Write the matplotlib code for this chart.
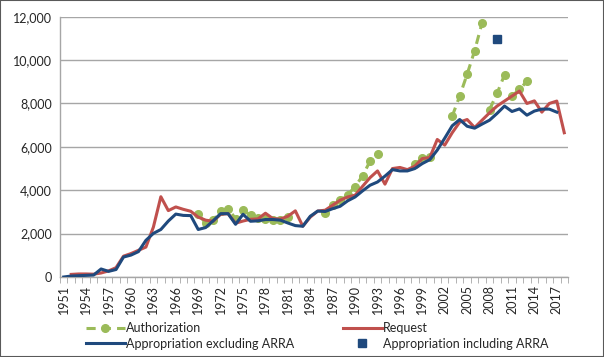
import matplotlib
matplotlib.use("Agg")
from matplotlib import pyplot as plt
from matplotlib.patches import Rectangle
from matplotlib.ticker import FuncFormatter
import numpy as np

years = list(range(1951, 2019))

# appropriation excluding ARRA, 1951-2017 (nan for 2018)
appropriation = [0, 45, 60, 75, 90, 370, 260, 345, 920, 1010,
                 1170, 1690, 2010, 2190, 2580, 2900, 2840, 2830, 2190, 2280,
                 2590, 2920, 2920, 2430, 2890, 2570, 2590, 2650, 2650, 2620,
                 2490, 2370, 2340, 2800, 3040, 3020, 3150, 3260, 3510, 3690,
                 3970, 4230, 4380, 4650, 4950, 4890, 4890, 5000, 5230, 5410,
                 5850, 6400, 6970, 7260, 6950, 6860, 7050, 7230, 7540, 7880,
                 7630, 7750, 7460, 7650, 7740, 7740, 7600, np.nan]

# request, 1952-2018 (nan for 1951)
request = [np.nan, 120, 140, 140, 130, 185, 280, 430, 960, 1080,
           1230, 1380, 2300, 3700, 3060, 3230, 3120, 3030, 2760, 2620,
           2570, 2890, 2920, 2480, 2580, 2660, 2680, 2940, 2690, 2670,
           2800, 3050, 2340, 2760, 3040, 3080, 3310, 3540, 3690, 3770,
           4180, 4580, 4890, 4280, 5000, 5050, 4950, 5110, 5460, 5510,
           6340, 6080, 6650, 7140, 7260, 6890, 7230, 7570, 7880, 8110,
           8340, 8570, 8000, 8120, 7600, 8000, 8110, 6650]

# authorization acts, one list per act
auth_years = [list(range(1969, 1982)), list(range(1986, 1994)),
              list(range(1998, 2001)), list(range(2003, 2008)),
              list(range(2008, 2011)), list(range(2011, 2014))]
auth_values = [[2890, 2490, 2620, 3050, 3150, 2690, 3090, 2840, 2740, 2660, 2620, 2650, 2760],
               [2970, 3320, 3550, 3780, 4170, 4660, 5340, 5650],
               [5190, 5470, 5510],
               [7410, 8340, 9350, 10430, 11720],
               [7720, 8460, 9320],
               [8340, 8650, 9020]]

arra_year = [2009]
arra_value = [10950]

green = "#9BBB59"
red = "#C0504D"
blue = "#1F497D"
text_color = "#262626"
fs = 9

plt.rcParams["font.family"] = ["Lato", "DejaVu Sans"]

fig = plt.figure(figsize=(6.04, 3.57), dpi=100)
ax = fig.add_axes([60 / 604, 80 / 357, 508 / 604, 260.3 / 357])

auth_handle = None
for yrs, vals in zip(auth_years, auth_values):
    auth_handle, = ax.plot(yrs, vals, color=green, lw=2.2, ls=(0, (3, 2)),
                           marker="o", ms=5.5, zorder=2)
req_handle, = ax.plot(years, request, color=red, lw=2.2, zorder=3)
app_handle, = ax.plot(years, appropriation, color=blue, lw=2.2, zorder=4)
arra_handle, = ax.plot(arra_year, arra_value, ls="none", marker="s",
                       ms=6, color=blue, zorder=5)

ax.set_xlim(1950.5, 2018.5)
ax.set_ylim(0, 12000)
ax.set_yticks(range(0, 12001, 2000))
ax.yaxis.set_major_formatter(FuncFormatter(lambda v, p: f"{int(v):,}"))
ax.grid(axis="y", color="#A6A6A6", lw=1)
ax.set_axisbelow(True)

ax.set_xticks(years[::3])
ax.set_xticklabels([str(y) for y in years[::3]], rotation=90)
ax.set_xticks(np.arange(1950.5, 2019, 1), minor=True)
ax.tick_params(axis="x", which="major", length=0, pad=6, labelsize=fs, labelcolor=text_color)
ax.tick_params(axis="x", which="minor", length=4, color="#A6A6A6", direction="out")
ax.tick_params(axis="y", length=0, pad=6, labelsize=fs, labelcolor=text_color)

for side in ["top", "right"]:
    ax.spines[side].set_visible(False)
for side in ["left", "bottom"]:
    ax.spines[side].set_color("#A6A6A6")
    ax.spines[side].set_linewidth(1)

leg = fig.legend([auth_handle, app_handle, req_handle, arra_handle],
                 ["Authorization", "Appropriation excluding ARRA", "Request", "Appropriation including ARRA"],
                 ncol=2, loc="upper left", bbox_to_anchor=(86 / 604, 1 - 322 / 357),
                 frameon=False, fontsize=fs, handlelength=3.1, handletextpad=0.1,
                 columnspacing=3.9, labelspacing=0.3, borderpad=0, borderaxespad=0)
for t in leg.get_texts():
    t.set_color(text_color)

fig.patches.append(Rectangle((0, 0), 1, 1, transform=fig.transFigure, fill=False,
                             edgecolor="#595959", lw=1.5))

fig.savefig("out.png", dpi=100)
